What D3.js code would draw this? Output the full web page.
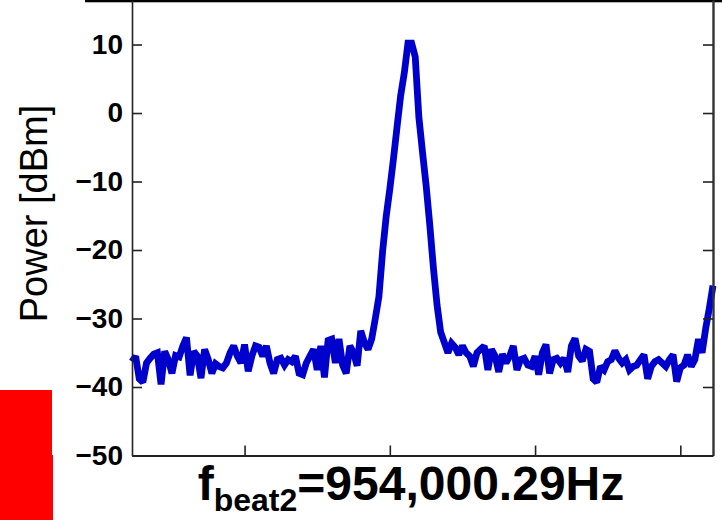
<!DOCTYPE html>
<html>
<head>
<meta charset="utf-8">
<script src="https://cdn.jsdelivr.net/npm/d3@7"></script>
<style>
  body { margin: 0; background: #fff; }
  svg { display: block; font-family: 'Liberation Sans', Arial, Helvetica, sans-serif; }
</style>
</head>
<body>
<svg id="chart"></svg>
<script>
// svg size and plot frame
const width = 722;
const height = 526;

const frame = {
  left: 132,
  right: 713,
  top: 0,
  bottom: 455.5
};

// trace values in dBm, one per analyzer bin
const power = [
  -36.3, -35.5, -38.8, -39.3, -36.5, -35.8, -35.2, -35.0, -39.6, -34.8, -36.0,
  -38.0, -35.4, -35.6, -34.0, -32.8, -38.3, -34.8, -35.5, -38.7, -34.5,
  -36.0, -38.0, -36.6, -37.0, -37.2, -36.5, -35.0, -34.0, -35.5, -36.5,
  -33.8, -37.7, -35.5, -34.0, -34.2, -35.5, -34.0, -36.5, -38.0, -36.0,
  -35.8, -36.8, -36.0, -36.3, -35.5, -38.0, -38.2, -36.5, -35.5, -34.5,
  -37.5, -34.0, -38.6, -33.2, -33.0, -36.5, -33.0, -36.8, -38.0, -34.0,
  -35.0, -36.9, -31.8, -33.5, -34.5, -33.0, -30.0, -26.8, -20.3, -15.1,
  -11.1, -6.7, -2.0, 2.6, 5.9, 10.2, 10.2, 8.2, -0.6, -5.7,
  -10.6, -16.3, -22.6, -28.0, -32.0, -33.5, -35.0, -33.6, -34.2, -35.3,
  -34.0, -35.0, -35.5, -37.0, -35.0, -34.5, -34.0, -37.5, -34.5, -35.5,
  -37.8, -35.2, -36.5, -35.5, -34.0, -37.5, -36.0, -35.8, -36.8, -37.0,
  -35.5, -38.2, -35.0, -33.8, -38.0, -36.0, -35.8, -36.5, -35.8, -37.8,
  -34.0, -32.9, -35.5, -36.2, -34.5, -34.8, -38.8, -39.3, -37.0, -37.5,
  -36.3, -36.0, -34.7, -35.8, -36.5, -36.0, -37.5, -37.0, -36.8, -36.0,
  -35.3, -38.8, -37.0, -36.3, -36.0, -36.5, -37.0, -36.0, -35.3, -39.2,
  -37.2, -36.8, -35.3, -37.0, -36.0, -33.0, -35.0, -31.4, -28.5, -25.2
];

const binDomain = [0, 160];
const xTicks = [31, 71, 111, 151];
const yTicks = [10, 0, -10, -20, -30, -40, -50];
const yDomain = [-50, 16.5];

const svg = d3.select('#chart')
              .attr('width', width)
              .attr('height', height);

const x = d3.scaleLinear()
            .domain(binDomain)
            .range([frame.left, frame.right]);

const y = d3.scaleLinear()
            .domain(yDomain)
            .range([frame.bottom, frame.top]);

// black strip along the top edge
svg.append('rect')
   .attr('x', 85)
   .attr('y', 0)
   .attr('width', width - 85)
   .attr('height', 2.3)
   .attr('fill', '#000');

// red blocks at lower left
svg.append('rect')
   .attr('x', 0).attr('y', 390)
   .attr('width', 52).attr('height', 66)
   .attr('fill', '#ff0000');
svg.append('rect')
   .attr('x', 0).attr('y', 455)
   .attr('width', 53).attr('height', 65)
   .attr('fill', '#ff0000');

// trace
const line = d3.line()
               .x((d, i) => x(i))
               .y(d => y(d));

svg.append('path')
   .datum(power)
   .attr('d', line)
   .attr('fill', 'none')
   .attr('stroke', '#0000cc')
   .attr('stroke-width', 6.8)
   .attr('stroke-linejoin', 'miter')
   .attr('stroke-miterlimit', 2);

// axes, ticks point inward
const yAxisLeft = d3.axisLeft(y)
                    .tickValues(yTicks)
                    .tickSizeInner(-10)
                    .tickSizeOuter(0)
                    .tickPadding(9);

const yAxisRight = d3.axisRight(y)
                     .tickValues(yTicks)
                     .tickSizeInner(-10)
                     .tickSizeOuter(0)
                     .tickFormat('');

const xAxis = d3.axisBottom(x)
                .tickValues(xTicks)
                .tickSizeInner(-10)
                .tickSizeOuter(0)
                .tickFormat('');

const gLeft = svg.append('g')
                 .attr('transform', 'translate(' + frame.left + ',0)')
                 .call(yAxisLeft);

const gRight = svg.append('g')
                  .attr('transform', 'translate(' + frame.right + ',0)')
                  .call(yAxisRight);

const gBottom = svg.append('g')
                   .attr('transform', 'translate(0,' + frame.bottom + ')')
                   .call(xAxis);

gLeft.select('.domain').attr('stroke', '#222').attr('stroke-width', 1.6);
gRight.select('.domain').attr('stroke', '#333').attr('stroke-width', 2.4);
gBottom.select('.domain').attr('stroke', '#222').attr('stroke-width', 2);

svg.selectAll('.tick line')
   .attr('stroke', '#222')
   .attr('stroke-width', 1.6);

gLeft.selectAll('.tick text')
     .attr('font-family', "'Liberation Sans', Arial, sans-serif")
     .attr('font-size', 28)
     .attr('font-weight', 'bold')
     .attr('fill', '#000');

// axis titles
svg.append('text')
   .attr('transform', 'translate(47,213.5) rotate(-90)')
   .attr('text-anchor', 'middle')
   .attr('font-size', 38)
   .attr('fill', '#000')
   .text('Power [dBm]');

const xlabel = svg.append('text')
                  .attr('x', 411)
                  .attr('y', 500)
                  .attr('text-anchor', 'middle')
                  .attr('font-size', 48)
                  .attr('font-weight', 'bold')
                  .attr('fill', '#000');

xlabel.append('tspan').text('f');
xlabel.append('tspan')
      .attr('font-size', 32)
      .attr('dy', 11)
      .text('beat2');
xlabel.append('tspan')
      .attr('dy', -11)
      .text('=954,000.29Hz');
</script>
</body>
</html>
